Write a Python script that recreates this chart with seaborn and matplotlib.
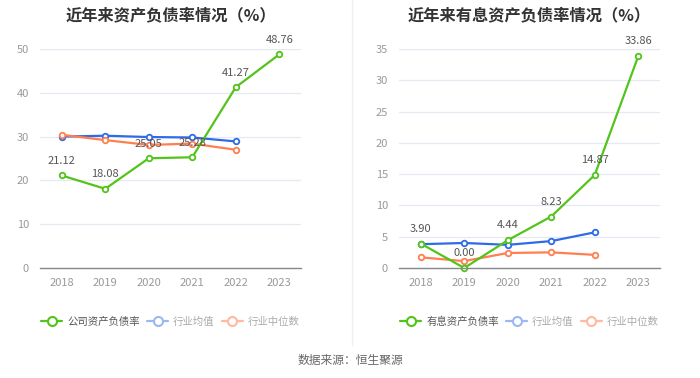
import matplotlib
matplotlib.use("Agg")
from matplotlib import pyplot as plt
from matplotlib.lines import Line2D
import pandas as pd
import seaborn as sns

sns.set_theme(style="white")
plt.rcParams['font.family'] = ['Noto Sans CJK SC', 'DejaVu Sans']

years = ["2018", "2019", "2020", "2021", "2022", "2023"]

# left chart: 资产负债率
debt_company = [21.12, 18.08, 25.05, 25.28, 41.27, 48.76]
debt_mean = [30.0, 30.2, 29.9, 29.8, 28.9]
debt_median = [30.4, 29.2, 28.1, 28.4, 27.0]

# right chart: 有息资产负债率
int_company = [3.90, 0.00, 4.44, 8.23, 14.87, 33.86]
int_mean = [3.8, 4.0, 3.7, 4.3, 5.7]
int_median = [1.7, 1.1, 2.4, 2.5, 2.1]

green = "#52c41a"
blue = "#2f6be6"
orange = "#ff7f50"
blue_light = "#9bb8f2"
orange_light = "#ffb9a0"


def draw(ax, title, company, mean, median, company_label, ymax, step):
    df = pd.DataFrame({"x": range(len(years)), "v": company})
    dm = pd.DataFrame({"x": range(len(mean)), "v": mean})
    dd = pd.DataFrame({"x": range(len(median)), "v": median})
    kw = dict(marker="o", markersize=4, markerfacecolor="white",
              markeredgewidth=1.3, linewidth=1.6, ax=ax, clip_on=False)
    sns.lineplot(data=dm, x="x", y="v", color=blue, markeredgecolor=blue, **kw)
    sns.lineplot(data=dd, x="x", y="v", color=orange, markeredgecolor=orange, **kw)
    sns.lineplot(data=df, x="x", y="v", color=green, markeredgecolor=green, **kw)
    for i, v in enumerate(company):
        ax.annotate(f"{v:.2f}", (i, v), xytext=(0, 7), textcoords="offset points",
                    ha="center", va="bottom", fontsize=8, color="#555555")
    ax.set_xlim(-0.5, len(years) - 0.5)
    ax.set_ylim(0, ymax)
    ax.set_yticks(range(0, ymax + 1, step))
    ax.set_xticks(range(len(years)))
    ax.set_xticklabels(years)
    ax.set_xlabel("")
    ax.set_ylabel("")
    for s in ["top", "right", "left"]:
        ax.spines[s].set_visible(False)
    ax.spines["bottom"].set_color("#888888")
    ax.spines["bottom"].set_linewidth(1.0)
    ax.grid(axis="y", color="#e6e9f2", linewidth=0.9)
    ax.set_axisbelow(True)
    ax.tick_params(axis="x", colors="#999999", labelsize=8, length=4, width=0.8,
                   direction="out", pad=3)
    ax.tick_params(axis="x", color="#888888")
    ax.tick_params(axis="y", colors="#999999", labelsize=8, length=0, pad=8)
    ax.set_title(title, fontsize=11.7, fontweight="bold", color="#333333", pad=21)
    handles = [
        Line2D([], [], color=green, marker="o", markersize=6.5, markerfacecolor="white",
               markeredgewidth=1.5, linewidth=1.6),
        Line2D([], [], color=blue_light, marker="o", markersize=6.5, markerfacecolor="white",
               markeredgewidth=1.5, linewidth=1.6),
        Line2D([], [], color=orange_light, marker="o", markersize=6.5, markerfacecolor="white",
               markeredgewidth=1.5, linewidth=1.6),
    ]
    leg = ax.legend(handles, [company_label, "行业均值", "行业中位数"], loc="center",
                    bbox_to_anchor=(0.5, -0.245), ncol=3, frameon=False, fontsize=7.5,
                    handlelength=2.0, handletextpad=0.5, columnspacing=0.7)
    for t, c in zip(leg.get_texts(), ["#555555", "#aaaaaa", "#aaaaaa"]):
        t.set_color(c)


fig = plt.figure(figsize=(7, 3.78), dpi=100)
ax1 = fig.add_axes([40 / 700, 110 / 378, 261 / 700, 219 / 378])
ax2 = fig.add_axes([399 / 700, 110 / 378, 261 / 700, 219 / 378])

draw(ax1, "近年来资产负债率情况（%）", debt_company, debt_mean, debt_median,
     "公司资产负债率", 50, 10)
draw(ax2, "近年来有息资产负债率情况（%）", int_company, int_mean, int_median,
     "有息资产负债率", 35, 5)

fig.add_artist(Line2D([352 / 700, 352 / 700], [33 / 378, 1.0], color="#eeeeee", linewidth=1.0))
fig.text(0.5, 18 / 378, "数据来源：恒生聚源", ha="center", va="center", fontsize=8.5,
         color="#666666")

fig.savefig("out.png", dpi=100)
